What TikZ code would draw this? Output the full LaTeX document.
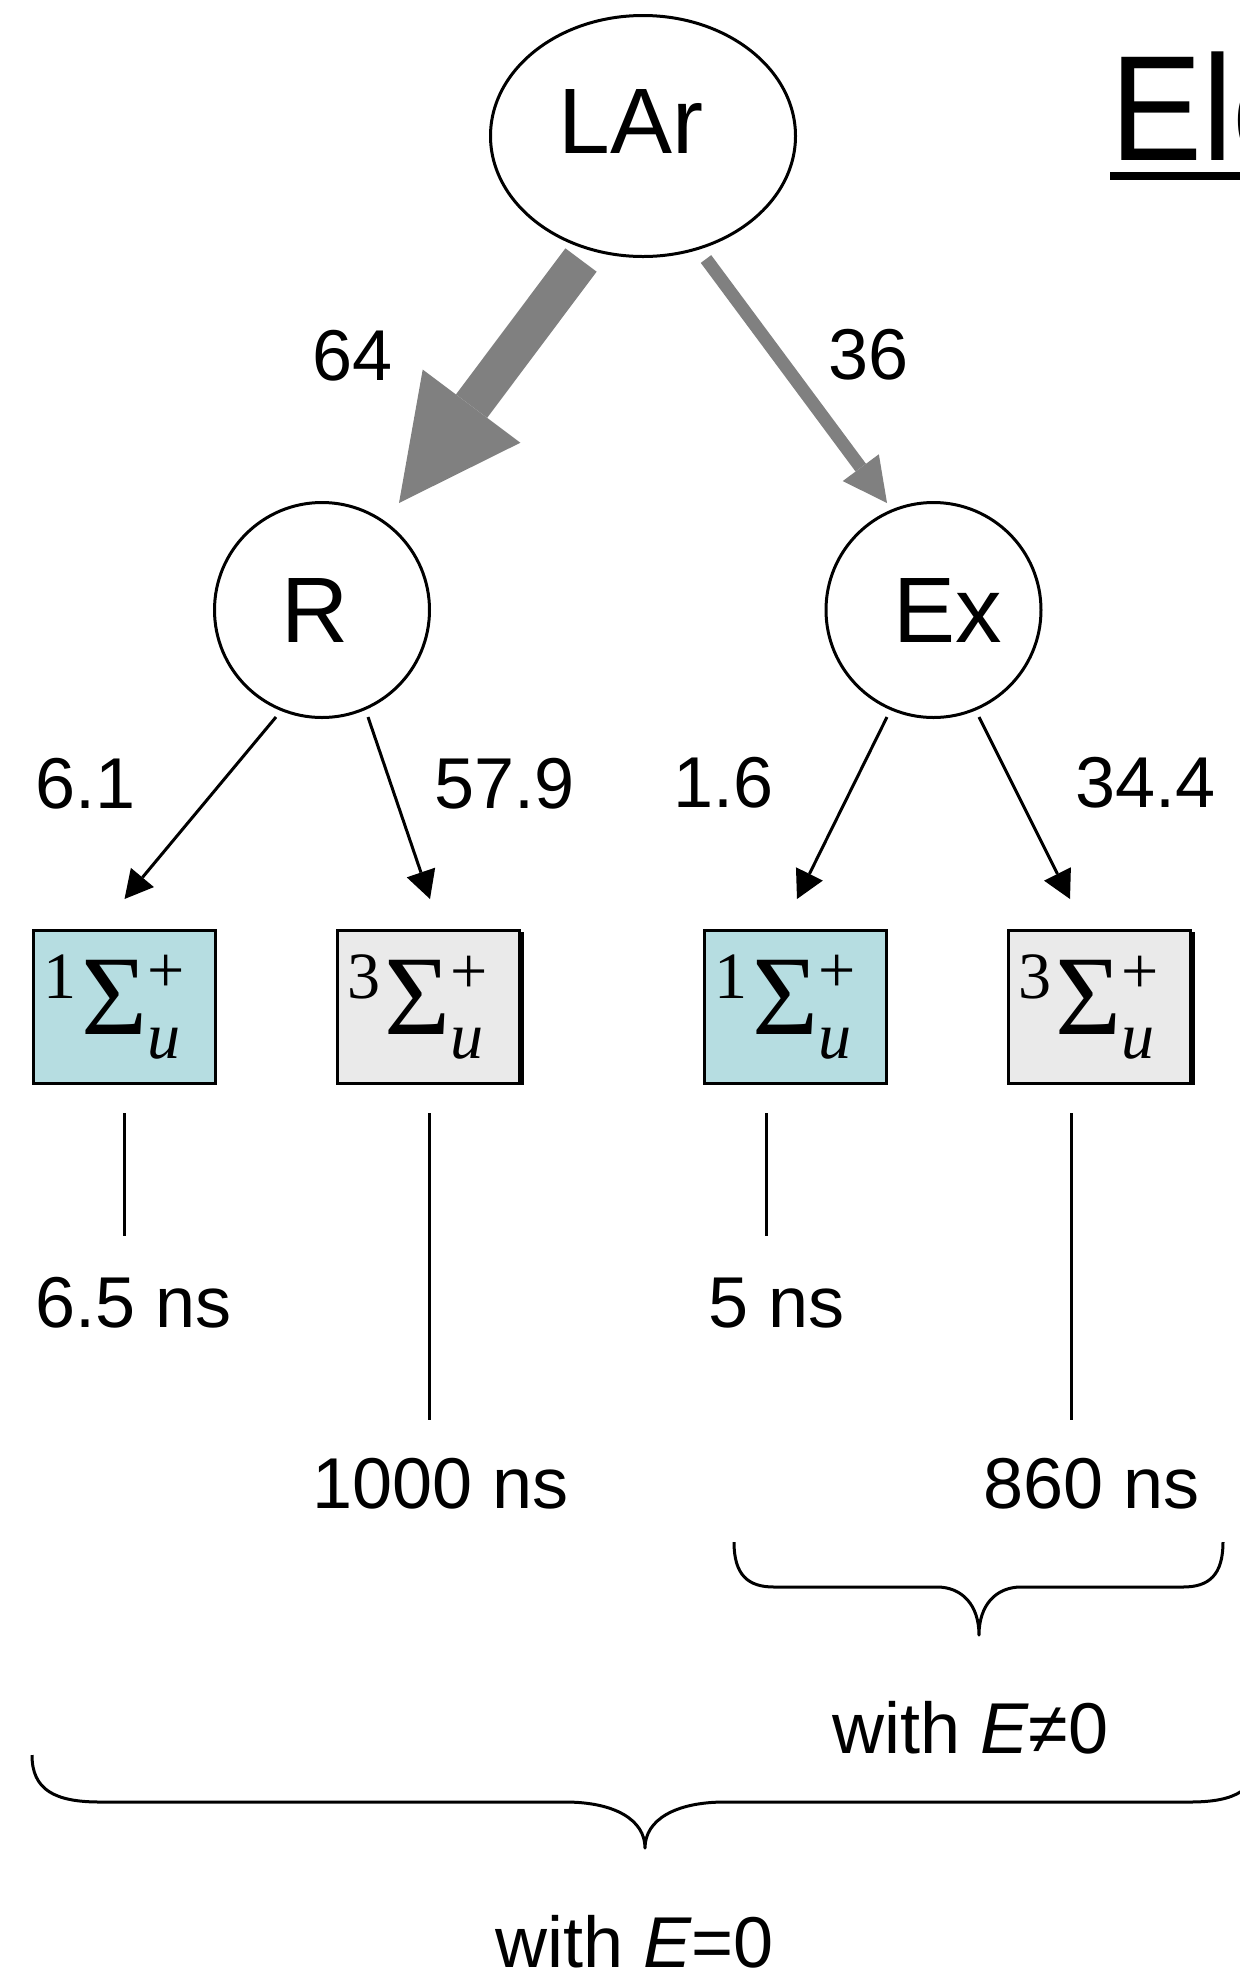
\documentclass[tikz,border=0pt]{standalone}
\usepackage{amsmath}
\usepackage[no-math]{fontspec}
\setmainfont{Liberation Sans}
\newfontfamily\serifface{Liberation Serif}
\usepackage{graphicx}
\usetikzlibrary{arrows.meta,calc,shapes.geometric}
\definecolor{arrgray}{HTML}{808080}
\definecolor{boxblue}{HTML}{B6DDE1}
\definecolor{boxgray}{HTML}{EAEAEA}
\newcommand{\fsz}[1]{\fontsize{#1}{#1}\selectfont}
\newcommand{\stateterm}[1]{\scalebox{9}{\fontsize{10.5}{12}\selectfont
  ${}^{\text{\serifface #1}}\text{\serifface\fontsize{12.6}{13}\selectfont Σ}_{\text{\serifface\itshape u}}^{\text{\serifface\raisebox{-1.2pt}{+}}}$\kern1.8pt}}
\begin{document}
\begin{tikzpicture}[x=1pt,y=-1pt,
  lbl/.style={anchor=base west,inner sep=0pt,font=\fsz{72}},
  statebox/.style={draw=black,line width=3pt,minimum width=182pt,minimum height=153pt,inner sep=0pt},
  bubble/.style={draw=black,line width=3pt,circle,minimum size=215pt,inner sep=0pt,font=\fsz{93}},
  blk/.style={line width=3pt,-{Triangle[length=28pt,width=30pt,line width=0pt]}},
  bigarr/.style={draw=arrgray,line width=39pt,-{Triangle[length=121pt,width=122pt,line width=0pt]}},
  smallarr/.style={draw=arrgray,line width=13pt,-{Triangle[length=44pt,width=45pt,line width=0pt]}},
  life/.style={line width=3pt},
  brace/.style={line width=3pt,line join=round}
]
\useasboundingbox (0,0) rectangle (1240,1974);
\clip (0,0) rectangle (1240,1974);
\fill[white] (0,0) rectangle (1240,1974);

% title fragment
\node[anchor=base west,inner sep=0pt,font=\fsz{150}] (title) at (1110,160) {\scalebox{0.92}[1]{Ele}};
\draw[line width=8pt] ([yshift=-16pt]title.base west) -- ++(150,0);

% main nodes
\node[draw=black,line width=3pt,ellipse,minimum width=305pt,minimum height=241pt,inner sep=0pt,
      font=\fsz{93},text height=67pt,text depth=33pt] (LAr) at (643,136) {LAr\kern24pt};
\node[bubble] (R) at (322,610) {R\kern14pt};
\node[bubble] (Ex) at (933.5,610) {\kern29pt Ex};

% state boxes
\node[statebox,fill=boxblue] (b1) at (124.5,1007) {\stateterm{1}};
\node[statebox,fill=boxgray] (b2) at (428,1007) {\stateterm{3}};
\node[statebox,fill=boxblue] (b3) at (795.5,1007) {\stateterm{1}};
\node[statebox,fill=boxgray] (b4) at (1099,1007) {\stateterm{3}};
\draw[line width=3pt] ([xshift=1.5pt,yshift=-3pt]b2.north east) -- ([xshift=1.5pt]b2.south east);
\draw[line width=3pt] ([xshift=1.5pt,yshift=-3pt]b4.north east) -- ([xshift=1.5pt]b4.south east);

% gray arrows
\draw[bigarr] ($(LAr.center)+(-62,124)$) -- ($(R.center)+(77,-107)$);
\draw[smallarr] ($(LAr.center)+(63,123)$) -- ($(Ex.center)+(-46.5,-107)$);

% black arrows
\draw[blk] ($(R.center)+(-46,107)$) -- ([yshift=30pt]b1.north);
\draw[blk] ($(R.center)+(46,107)$) -- ([xshift=2pt,yshift=30pt]b2.north);
\draw[blk] ($(Ex.center)+(-46.5,107)$) -- ([xshift=1.5pt,yshift=30pt]b3.north);
\draw[blk] ($(Ex.center)+(45.5,107)$) -- ([xshift=-29pt,yshift=30pt]b4.north);

% labels
\node[lbl] (l64) at (312,380) {64};
\node[lbl] (l36) at (828,379) {36};
\node[lbl] (l61) at (35,808) {6.1};
\node[lbl] (l579) at (434,808) {57.9};
\node[lbl] (l16) at (673,807) {1.6};
\node[lbl] (l344) at (1075,807) {34.4};

% lifetimes
\draw[life] ([yshift=-28pt]b1.south) -- ++(0,123);
\draw[life] ([xshift=1pt,yshift=-28pt]b2.south) -- ++(0,307);
\draw[life] ([xshift=-29.5pt,yshift=-28pt]b3.south) -- ++(0,123);
\draw[life] ([xshift=-28pt,yshift=-28pt]b4.south) -- ++(0,307);
\node[lbl] (t1) at (35,1327) {6.5 ns};
\node[lbl] (t2) at (312,1508) {1000 ns};
\node[lbl] (t3) at (708,1327) {5 ns};
\node[lbl] (t4) at (983,1508) {860 ns};

% braces
\draw[brace] (734,1542) .. controls (734,1575) and (748,1587) .. (774,1587)
  -- (937,1587) .. controls (962,1587) and (979,1605) .. (979,1635)
  .. controls (979,1605) and (996,1587) .. (1021,1587)
  -- (1183,1587) .. controls (1209,1587) and (1223,1575) .. (1223,1542);
\node[lbl] (w1) at (832,1753) {with \textit{E}≠0};

\draw[brace] (32,1755) .. controls (32,1790) and (55,1802) .. (100,1802)
  -- (565,1802) .. controls (615,1802) and (645,1820) .. (645,1848)
  .. controls (645,1820) and (675,1802) .. (725,1802)
  -- (1190,1802) .. controls (1235,1802) and (1258,1790) .. (1258,1755);
\node[lbl] (w2) at (495,1967) {with \textit{E}=0};
\end{tikzpicture}
\end{document}
